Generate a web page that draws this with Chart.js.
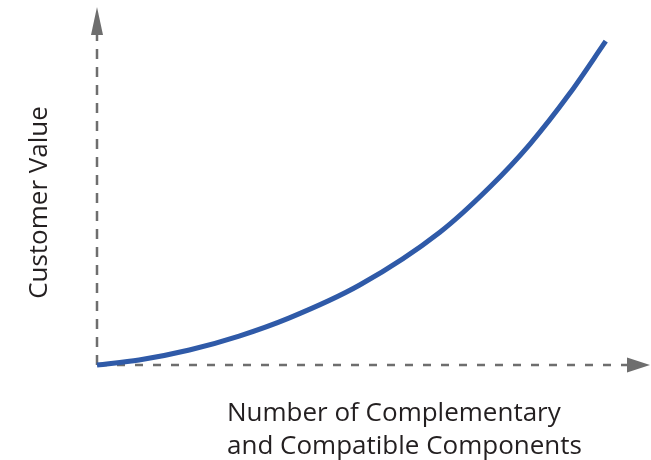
<!DOCTYPE html>
<html>
<head>
<meta charset="utf-8">
<style>
  html, body { margin: 0; padding: 0; background: #ffffff; }
  #wrap { position: relative; width: 651px; height: 460px; }
</style>
<script src="https://cdn.jsdelivr.net/npm/chart.js@4.4.1/dist/chart.umd.min.js"></script>
</head>
<body>
<div id="wrap"><canvas id="c" width="651" height="460"></canvas></div>
<script>
// Data (x: components, y: customer value, arbitrary 0-100 units)
const xValues = [0, 7.6, 16.7, 25.7, 34.8, 47.5, 62.0, 71.0, 78.3, 85.5, 92.0];
const yValues = [0, 1.4, 4.2, 8.1, 13.2, 22.4, 37.2, 49.8, 61.9, 76.1, 90.7];
const xTitleLines = ["Number of Complementary", "and Compatible Components"];
const yTitle = "Customer Value";

const points = xValues.map((x, i) => ({ x: x, y: yValues[i] }));

const AXIS_COLOR = '#6e6e6e';
const TEXT_COLOR = '#231f20';
const LINE_COLOR = '#2f5aa8';
const FONT = '"Open Sans", "Liberation Sans", sans-serif';

const axesPlugin = {
  id: 'arrowAxes',
  beforeDatasetsDraw(chart) {
    const ctx = chart.ctx;
    const a = chart.chartArea;
    const x0 = a.left, y0 = a.bottom;
    ctx.save();
    ctx.strokeStyle = AXIS_COLOR;
    ctx.lineWidth = 2.5;
    ctx.lineCap = 'butt';
    // y axis
    ctx.setLineDash([10, 8]);
    ctx.beginPath();
    ctx.moveTo(x0, y0);
    ctx.lineTo(x0, a.top + 20);
    ctx.stroke();
    // x axis
    ctx.setLineDash([8, 10]);
    ctx.beginPath();
    ctx.moveTo(x0 + 2, y0);
    ctx.lineTo(a.right - 20, y0);
    ctx.stroke();
    ctx.setLineDash([]);
    ctx.fillStyle = AXIS_COLOR;
    // y arrow head
    ctx.beginPath();
    ctx.moveTo(x0, a.top - 1);
    ctx.lineTo(x0 - 6, a.top + 27);
    ctx.lineTo(x0 + 6, a.top + 27);
    ctx.closePath();
    ctx.fill();
    // x arrow head
    ctx.beginPath();
    ctx.moveTo(a.right, y0);
    ctx.lineTo(a.right - 23, y0 - 7.5);
    ctx.lineTo(a.right - 23, y0 + 7.5);
    ctx.closePath();
    ctx.fill();
    ctx.restore();
  },
  afterDraw(chart) {
    const ctx = chart.ctx;
    const a = chart.chartArea;
    ctx.save();
    ctx.fillStyle = TEXT_COLOR;
    ctx.font = '26px ' + FONT;
    ctx.textAlign = 'left';
    ctx.textBaseline = 'alphabetic';
    ctx.fillText(xTitleLines[0], a.left + 130, a.bottom + 56);
    ctx.fillText(xTitleLines[1], a.left + 130, a.bottom + 89);
    // y title rotated
    ctx.translate(a.left - 50, (a.top + a.bottom) / 2 + 16);
    ctx.rotate(-Math.PI / 2);
    ctx.textAlign = 'center';
    ctx.fillText(yTitle, 0, 0);
    ctx.restore();
  }
};

new Chart(document.getElementById('c'), {
  type: 'line',
  data: {
    datasets: [{
      data: points,
      borderColor: LINE_COLOR,
      borderWidth: 5,
      borderCapStyle: 'butt',
      pointRadius: 0,
      fill: false,
      cubicInterpolationMode: 'monotone',
      clip: false
    }]
  },
  options: {
    responsive: false,
    animation: false,
    events: [],
    layout: { padding: { left: 97, right: 1, top: 8, bottom: 95 } },
    plugins: { legend: { display: false }, tooltip: { enabled: false } },
    scales: {
      x: {
        type: 'linear', min: 0, max: 100,
        ticks: { display: false },
        grid: { display: false, drawTicks: false },
        border: { display: false }
      },
      y: {
        type: 'linear', min: 0, max: 100,
        ticks: { display: false },
        grid: { display: false, drawTicks: false },
        border: { display: false }
      }
    }
  },
  plugins: [axesPlugin]
});
</script>
</body>
</html>
